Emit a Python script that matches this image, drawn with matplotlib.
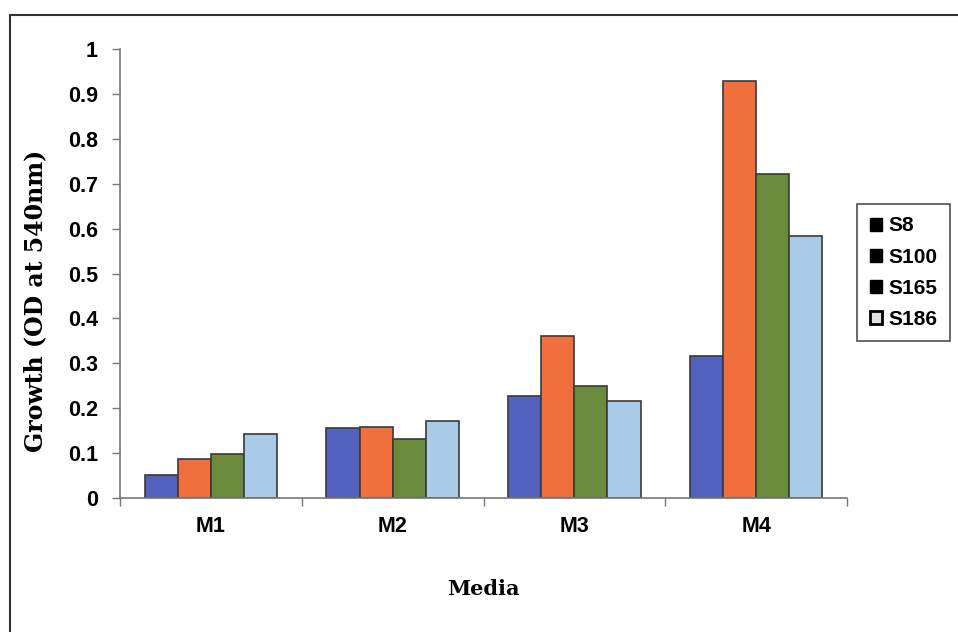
import matplotlib.pyplot as plt
import numpy as np
from matplotlib.lines import Line2D
from matplotlib.patches import Patch

media = ["M1", "M2", "M3", "M4"]
strains = ["S8", "S100", "S165", "S186"]
s8 = [0.051, 0.155, 0.228, 0.317]
s100 = [0.086, 0.159, 0.361, 0.929]
s165 = [0.098, 0.131, 0.249, 0.721]
s186 = [0.143, 0.171, 0.217, 0.584]
y_ticks = [0, 0.1, 0.2, 0.3, 0.4, 0.5, 0.6, 0.7, 0.8, 0.9, 1]
y_tick_labels = ["0", "0.1", "0.2", "0.3", "0.4", "0.5", "0.6", "0.7", "0.8", "0.9", "1"]

colors = ["#5261bd", "#f06f3c", "#6b8b3c", "#a9cbe8"]
series = [s8, s100, s165, s186]

fig = plt.figure(figsize=(9.58, 6.32), dpi=100)
ax = fig.add_axes([120 / 958, 1 - 498 / 632, 727 / 958, 449 / 632])

x = np.arange(len(media))
width = 0.182
for k, (values, color) in enumerate(zip(series, colors)):
    ax.bar(x + (k - 1.5) * width, values, width, color=color,
           edgecolor="#3a3a3a", linewidth=1.2, zorder=2)

ax.set_xlim(-0.5, len(media) - 0.5)
ax.set_ylim(0, 1)
ax.set_yticks(y_ticks)
ax.set_yticklabels(y_tick_labels)
ax.set_xticks(x)
ax.set_xticklabels(media)
ax.set_xticks(np.arange(len(media) + 1) - 0.5, minor=True)
ax.tick_params(axis="x", which="major", length=0, pad=13)
ax.tick_params(axis="x", which="minor", length=6, width=1, color="#777777", direction="out")
ax.tick_params(axis="y", length=6, width=1, color="#777777", direction="out", pad=10)
for lab in ax.get_xticklabels() + ax.get_yticklabels():
    lab.set_fontfamily("Liberation Sans")
    lab.set_fontweight("bold")
    lab.set_fontsize(15.5)

for side in ("top", "right"):
    ax.spines[side].set_visible(False)
for side in ("left", "bottom"):
    ax.spines[side].set_color("#777777")
    ax.spines[side].set_linewidth(1.2)

ax.set_ylabel("Growth (OD at 540nm)", fontfamily="DejaVu Serif", fontweight="bold",
              fontsize=17)
ax.yaxis.set_label_coords(-0.100, 0.44)
ax.set_xlabel("Media", fontfamily="DejaVu Serif", fontweight="bold",
              fontsize=15, labelpad=30)

# legend swatches as they come out in the print
handles = [Patch(facecolor="black", edgecolor="black"),
           Patch(facecolor="black", edgecolor="black"),
           Patch(facecolor="black", edgecolor="black"),
           Patch(facecolor="#e0e0e0", edgecolor="black", linewidth=2)]
leg = fig.legend(handles, strains, loc="upper left",
                 bbox_to_anchor=(857 / 958, 1 - 204 / 632),
                 prop={"family": "Liberation Sans", "weight": "bold", "size": 15},
                 frameon=True, fancybox=False, handlelength=0.6, handleheight=0.6,
                 handletextpad=0.3, labelspacing=0.58, borderpad=0.6,
                 borderaxespad=0)
leg.get_frame().set_edgecolor("#222222")
leg.get_frame().set_linewidth(1.2)

# outer frame around the chart area
fig.add_artist(Line2D([10 / 958, 10 / 958], [0, 1 - 15 / 632], transform=fig.transFigure,
                      color="#333333", linewidth=1.5))
fig.add_artist(Line2D([10 / 958, 1], [1 - 15 / 632, 1 - 15 / 632], transform=fig.transFigure,
                      color="#333333", linewidth=1.5))

fig.savefig("out.png", dpi=100)
